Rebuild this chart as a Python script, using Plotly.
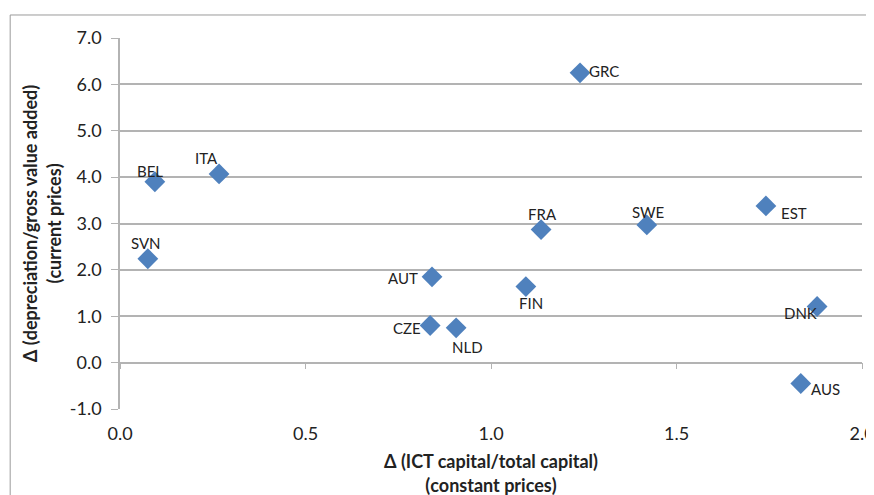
import plotly.graph_objects as go

countries = ["GRC", "BEL", "ITA", "SVN", "AUT", "CZE", "NLD", "FIN", "FRA", "SWE", "EST", "DNK", "AUS"]
ict_capital = [1.24, 0.094, 0.267, 0.075, 0.841, 0.836, 0.906, 1.094, 1.135, 1.42, 1.741, 1.879, 1.835]
depreciation = [6.25, 3.90, 4.07, 2.24, 1.85, 0.80, 0.75, 1.64, 2.87, 2.97, 3.38, 1.21, -0.45]
# label offsets in pixels (style only): (dx, dy) of label centre from its marker
label_dx = [24, -5, -13, -2, -29, -23, 11, 5, 1, 1, 28, -17, 25]
label_dy = [2, 11, 16, 16, -1, -2, -19, -16, 16, 13, -7, -6, -6]

x_ticks = [0.0, 0.5, 1.0, 1.5, 2.0]
y_ticks = [-1.0, 0.0, 1.0, 2.0, 3.0, 4.0, 5.0, 6.0, 7.0]
x_range = [0, 2.0]
y_range = [-1.0, 7.0]

font_family = "Lato, 'Open Sans', sans-serif"
grid_col = "#b3b3b3"

fig = go.Figure()
fig.add_trace(go.Scatter(
    x=ict_capital, y=depreciation, mode="markers",
    marker=dict(symbol="diamond", size=16, color="#4F81BD"),
    cliponaxis=False, hoverinfo="skip", showlegend=False,
))
# helper empty trace for axis line at y=0
fig.add_trace(go.Scatter(x=[None], y=[None], xaxis="x2", showlegend=False))

annotations = [
    dict(x=xv, y=yv, text=c, showarrow=False, xanchor="center", yanchor="middle",
         xshift=dx, yshift=dy, font=dict(family=font_family, size=15, color="#222"))
    for c, xv, yv, dx, dy in zip(countries, ict_capital, depreciation, label_dx, label_dy)
]

zero_pos = (0 - y_range[0]) / (y_range[1] - y_range[0])

fig.update_layout(
    width=874, height=495,
    margin=dict(l=112, r=20, t=30, b=94),
    paper_bgcolor="white", plot_bgcolor="white",
    font=dict(family=font_family, color="#222"),
    annotations=annotations,
    xaxis=dict(
        range=x_range, tickvals=x_ticks, ticktext=[f"{v:.1f}" for v in x_ticks],
        showgrid=False, zeroline=False, showline=False, ticks="", automargin=False,
        tickfont=dict(size=18), ticklabelstandoff=12, ticklabeloverflow="allow",
        title=dict(text="<b>Δ (ICT capital/total capital)<br>(constant prices)</b>",
                   font=dict(size=18), standoff=12),
    ),
    xaxis2=dict(
        range=x_range, overlaying="x", anchor="free", position=zero_pos,
        side="bottom", tickvals=x_ticks, showticklabels=False, automargin=False,
        ticks="outside", ticklen=6, tickcolor=grid_col,
        showline=True, linecolor=grid_col, linewidth=1.5,
        showgrid=False, zeroline=False,
    ),
    yaxis=dict(
        range=y_range, tickvals=y_ticks, ticktext=[f"{v:.1f}" for v in y_ticks],
        showgrid=True, gridcolor=grid_col, gridwidth=1.5, zeroline=False,
        showline=True, linecolor=grid_col, linewidth=1.5, automargin=False,
        ticks="outside", ticklen=7, tickcolor=grid_col,
        tickfont=dict(size=18), ticklabelstandoff=6,
        title=dict(text="<b>Δ (depreciation/gross value added)<br>(current prices)</b>",
                   font=dict(size=18), standoff=4),
    ),
    shapes=[dict(type="rect", xref="paper", yref="paper",
                 x0=-0.148, x1=1.2, y0=-0.4, y1=1.062,
                 line=dict(color="#9a9a9a", width=1), layer="below")],
)

fig.write_html("out.html")
